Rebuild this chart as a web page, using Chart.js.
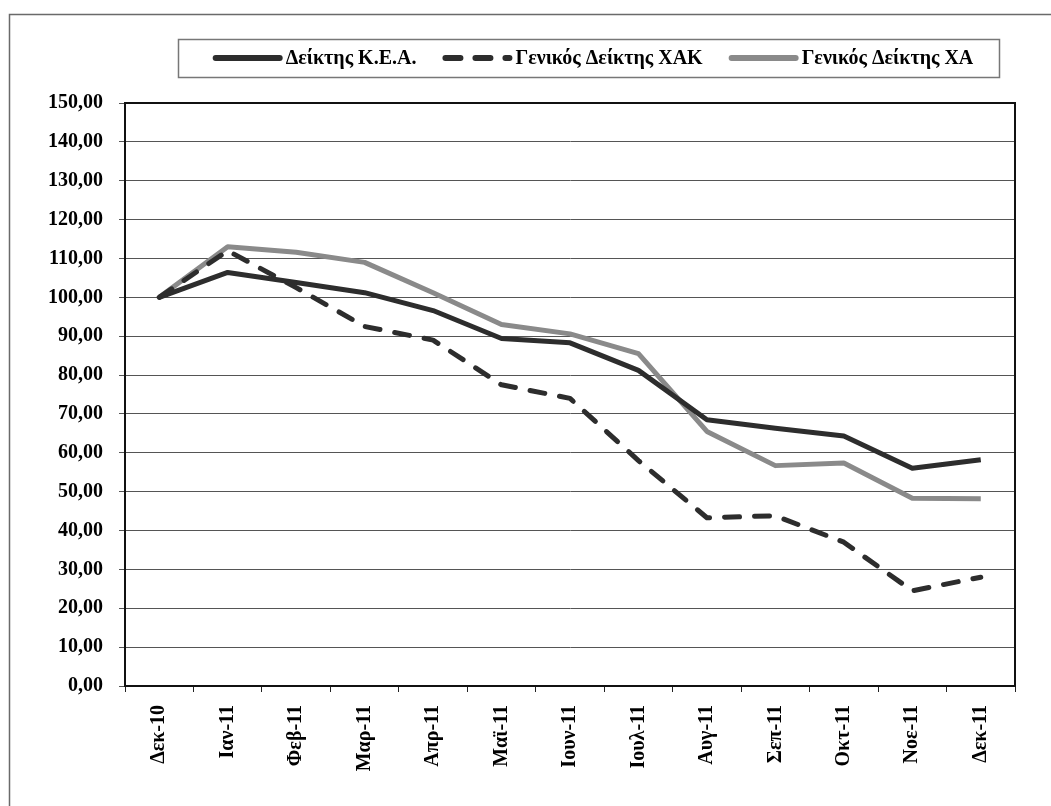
<!DOCTYPE html>
<html>
<head>
<meta charset="utf-8">
<script src="https://cdn.jsdelivr.net/npm/chart.js@4"></script>
<style>
  body { margin: 0; background: #fff; }
  #wrap { position: relative; width: 1051px; height: 806px; }
</style>
</head>
<body>
<div id="wrap"><canvas id="indexChart"></canvas></div>
<script>
// categories and series
const months = ['Δεκ-10', 'Ιαν-11', 'Φεβ-11', 'Μαρ-11', 'Απρ-11', 'Μαϊ-11', 'Ιουν-11',
    'Ιουλ-11', 'Αυγ-11', 'Σεπ-11', 'Οκτ-11', 'Νοε-11', 'Δεκ-11'];
const keaValues = [100, 106.4, 103.8, 101.2, 96.6, 89.4, 88.3, 81.2, 68.5, 66.3, 64.3, 56.0, 58.2];
const xakValues = [100, 112.0, 102.5, 92.5, 89.0, 77.5, 74.0, 58.0, 43.3, 43.8, 37.0, 24.5, 28.0];
const xaValues = [100, 113.0, 111.6, 109.0, 101.2, 93.0, 90.6, 85.5, 65.5, 56.7, 57.4, 48.3, 48.2];
const seriesNames = ['Δείκτης Κ.Ε.Α.', 'Γενικός Δείκτης ΧΑΚ', 'Γενικός Δείκτης ΧΑ'];

const FONT = '"Liberation Serif", "Times New Roman", serif';

// frame around the whole picture, plot border and the boxed legend
const framePlugin = {
    id: 'frame',
    afterDraw(chart) {
        const ctx = chart.ctx;
        const area = chart.chartArea;
        ctx.save();
        // outer frame
        ctx.strokeStyle = '#6a6a6a';
        ctx.lineWidth = 1.5;
        ctx.strokeRect(9.5, 14.5, 1100, 900);
        // plot border
        ctx.strokeStyle = '#111';
        ctx.lineWidth = 2;
        ctx.strokeRect(area.left, area.top, area.right - area.left, area.bottom - area.top);

        // legend box
        ctx.strokeStyle = '#777';
        ctx.lineWidth = 1.5;
        ctx.strokeRect(178.5, 39.5, 821, 38);

        ctx.font = 'bold 20px ' + FONT;
        ctx.textBaseline = 'middle';
        const sampleW = 70, gap = 3, spacing = 26, cy = 58;
        const items = chart.data.datasets.map(ds => ({
            ds, w: ctx.measureText(ds.label).width
        }));
        let total = items.reduce((s, it) => s + sampleW + gap + it.w, 0) + spacing * (items.length - 1);
        let x = 593 - total / 2;
        items.forEach(it => {
            ctx.beginPath();
            ctx.strokeStyle = it.ds.borderColor;
            ctx.lineWidth = 6;
            ctx.lineCap = 'round';
            ctx.setLineDash(it.ds.borderDash || []);
            ctx.moveTo(x + 3, cy);
            ctx.lineTo(x + sampleW - 3, cy);
            ctx.stroke();
            ctx.setLineDash([]);
            ctx.fillStyle = '#000';
            ctx.fillText(it.ds.label, x + sampleW + gap, cy + 1);
            x += sampleW + gap + it.w + spacing;
        });
        ctx.restore();
    }
};

function initializeChart() {
    const ctx = document.getElementById('indexChart').getContext('2d');
    new Chart(ctx, {
        type: 'line',
        data: {
            labels: months,
            datasets: [{
                label: seriesNames[0],
                data: keaValues,
                borderColor: '#2d2d2d',
                borderWidth: 5
            }, {
                label: seriesNames[1],
                data: xakValues,
                borderColor: '#2d2d2d',
                borderWidth: 5,
                borderDash: [15, 15],
                borderCapStyle: 'round'
            }, {
                label: seriesNames[2],
                data: xaValues,
                borderColor: '#8a8a8a',
                borderWidth: 5
            }]
        },
        options: {
            responsive: true,
            maintainAspectRatio: false,
            animation: false,
            layout: {
                padding: { top: 103, right: 36, left: 0, bottom: 0 }
            },
            elements: {
                point: { radius: 0 },
                line: { tension: 0, borderJoinStyle: 'round' }
            },
            plugins: {
                legend: { display: false },
                tooltip: { enabled: false }
            },
            scales: {
                x: {
                    offset: true,
                    afterFit: scale => { scale.height = 120; },
                    border: { color: '#000', width: 2 },
                    grid: {
                        offset: true,
                        drawOnChartArea: false,
                        drawTicks: true,
                        tickLength: 6,
                        color: '#222'
                    },
                    ticks: {
                        minRotation: 90,
                        maxRotation: 90,
                        padding: 13,
                        color: '#000',
                        font: { family: FONT, size: 20, weight: 'bold' }
                    }
                },
                y: {
                    min: 0,
                    max: 150,
                    afterFit: scale => { scale.width = 125; },
                    border: { color: '#000', width: 2 },
                    grid: {
                        color: '#555',
                        lineWidth: 1,
                        tickLength: 6
                    },
                    ticks: {
                        stepSize: 10,
                        padding: 16,
                        color: '#000',
                        font: { family: FONT, size: 20, weight: 'bold' },
                        callback: value => value.toFixed(2).replace('.', ',')
                    }
                }
            }
        },
        plugins: [framePlugin]
    });
}

document.addEventListener('DOMContentLoaded', initializeChart);
</script>
</body>
</html>
